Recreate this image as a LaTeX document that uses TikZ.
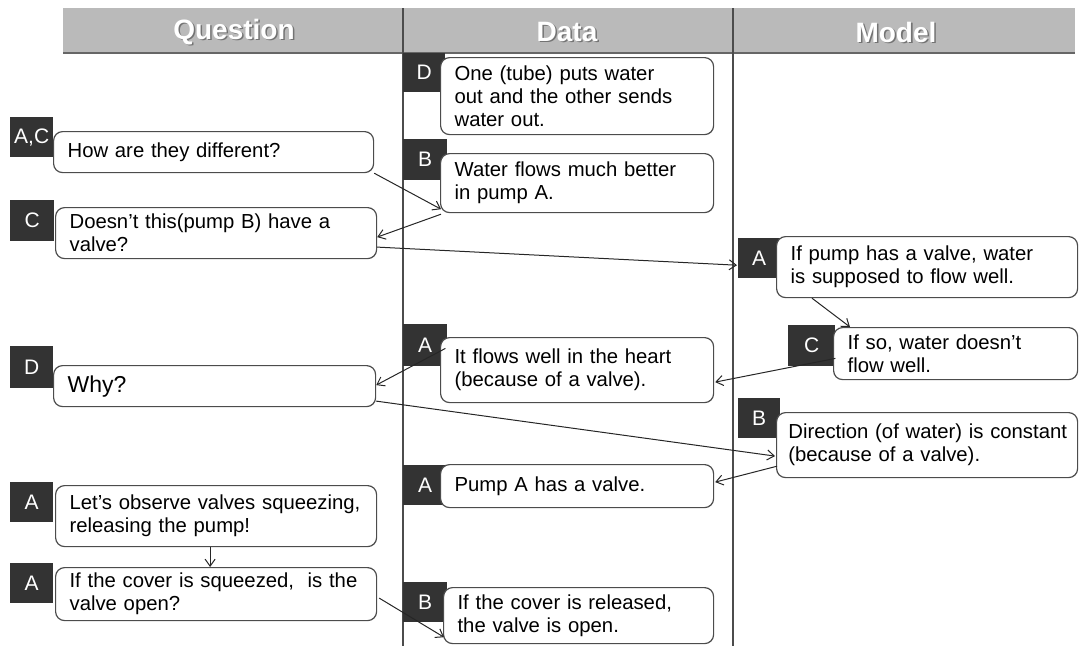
\documentclass[tikz,border=0pt]{standalone}
\usepackage{fontspec}
\setmainfont{Liberation Sans}
\usetikzlibrary{arrows.meta,calc}

\begin{document}
\begin{tikzpicture}[
    x = 1pt, y = -1pt,
    head lbl/.style = {font=\fontsize{28}{30}\bfseries, text=white},
    head shadow/.style = {font=\fontsize{28}{30}\bfseries, text=black!55},
    tag/.style = {fill=black!80, text=white, anchor=north west, inner sep=0pt,
        minimum width=43pt, minimum height=40pt, font=\fontsize{21}{23}\selectfont},
    box/.style = {draw=black!70, line width=1.2pt, fill=white, rounded corners=9pt,
        anchor=north west, align=left, inner xsep=14pt, inner ysep=2pt,
        font=\fontsize{20.3}{23}\selectfont},
    link/.style = {draw=black!85, line width=1pt, -{Straight Barb[length=7pt,width=10pt]}}
]
\useasboundingbox (0,0) rectangle (1082,646);

% header band and columns
\fill[black!27] (63,8) rectangle (1075,53);
\draw[black!60, line width=2pt] (63,53) -- (1075,53);
\foreach \x/\t in {234/Question,567/Data,896/Model}{
    \node[head shadow] (hs\t) at (\x+1.5,33.5) {\t};
    \node[head lbl] (h\t) at (\x,32) {\t};
}
\foreach \x in {403,733}
    \draw[black!70, line width=1.3pt] (\x,8) -- (\x,646);

% question column
\node[tag] (lq1) at (10,117) {A,C};
\node[box, text width=292pt, minimum height=41pt] (q1) at (53,131) {How are they different?};
\node[tag, minimum width=44pt, minimum height=41pt] (lq2) at (10,200) {C};
\node[box, text width=293pt, minimum height=51pt] (q2) at (55,207) {Doesn't this(pump B) have a \\ valve?};
\node[tag, minimum height=42pt] (lq3) at (10,346) {D};
\node[box, text width=294pt, minimum height=41pt, font=\fontsize{23}{25}\selectfont] (q3) at (53,365) {Why?};
\node[tag] (lq4) at (10,482) {A};
\node[box, text width=293pt, minimum height=61pt] (q4) at (55,485) {Let's observe valves squeezing, \\ releasing the pump!};
\node[tag] (lq5) at (10,563) {A};
\node[box, text width=293pt, minimum height=53pt] (q5) at (55,567) {If the cover is squeezed,\ \ is\ the \\ valve open?};

% data column
\node[tag, minimum width=42pt, minimum height=39pt] (ld1) at (403,53) {D};
\node[box, text width=245pt, minimum height=77pt] (d1) at (440,57) {One (tube) puts water \\ out and the other sends \\ water out.};
\node[tag, minimum width=44pt, minimum height=41pt] (ld2) at (403,139) {B};
\node[box, text width=245pt, minimum height=59pt] (d2) at (440,153) {Water flows much better \\ in pump A.};
\node[tag, minimum width=44pt, minimum height=42pt] (ld3) at (403,324) {A};
\node[box, text width=245pt, minimum height=65pt] (d3) at (440,337) {It flows well in the heart \\ (because of a valve).};
\node[tag, minimum width=44pt] (ld4) at (403,465) {A};
\node[box, text width=245pt, minimum height=43pt] (d4) at (440,464) {Pump A has a valve.};
\node[tag, minimum width=44pt] (ld5) at (403,582) {B};
\node[box, text width=242pt, minimum height=56pt] (d5) at (443,587) {If the cover is released, \\ the valve is open.};

% model column
\node[tag, minimum width=42pt] (lm1) at (738,238) {A};
\node[box, text width=273pt, minimum height=61pt] (m1) at (776,236) {If pump\ has a valve, water \\ is supposed\ to flow well.};
\node[tag, minimum width=47pt, minimum height=41pt] (lm2) at (788,325) {C};
\node[box, text width=216pt, minimum height=52pt] (m2) at (833,327) {If so, water\ doesn't \\ flow well.};
\node[tag, minimum width=42pt] (lm3) at (738,398) {B};
\node[box, text width=291pt, inner xsep=5pt, minimum height=65pt] (m3) at (776,412) {\ Direction (of water) is constant \\ \ (because of a valve).};

% links
\draw[link] (q1.south east) -- ($(d2.south west)+(1,-4)$);
\draw[link] ($(d2.south west)+(1,1)$) -- ($(q2.east)+(0,4)$);
\draw[link] ($(q2.east)+(0,14)$) -- ($(lm1.west)+(-1,7)$);
\draw[link] ($(m1.south west)+(36,0)$) -- ($(m2.north west)+(17,0)$);
\draw[link] ($(lm2.south east)+(0,-8)$) -- ($(d3.east)+(1,12)$);
\draw[link] ($(ld3.south east)+(-2,-18)$) -- ($(q3.east)+(0,-1)$);
\draw[link] ($(q3.east)+(0,15)$) -- ($(m3.west)+(-1,11)$);
\draw[link] ($(m3.south west)+(1,-12)$) -- ($(d4.east)+(1,-4)$);
\draw[link] ($(q4.south)+(-6,0)$) -- ($(q5.north)+(-6,0)$);
\draw[link] ($(q5.east)+(2,4)$) -- ($(d5.south west)+(1,-7)$);

\end{tikzpicture}
\end{document}
